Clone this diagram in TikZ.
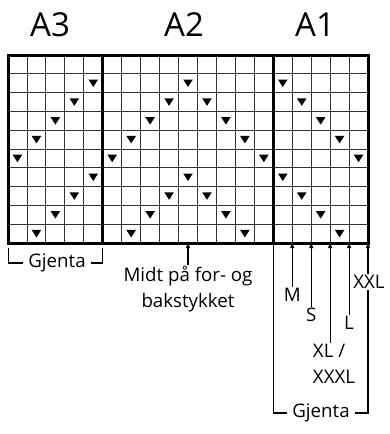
\documentclass[tikz,border=0pt]{standalone}
\usepackage{fontspec}
\setmainfont{Open Sans}
\usetikzlibrary{arrows.meta}
\def\tri(#1,#2){\fill ({8+(#1-0.5)*18.95-4.8},{55+(#2-0.5)*18.8-3.7}) -- ++(9.6,0) -- ++(-4.8,7.5) -- cycle;}
\tikzset{
  lbl/.style={inner sep=1pt, font=\fontsize{18.7}{26}\selectfont},
  ttl/.style={inner sep=0pt, font=\fontsize{33}{40}\selectfont},
  arr/.style={line width=1.1pt, -{Triangle[length=5pt,width=4pt]}},
  brk/.style={line width=1.1pt}
}
\begin{document}
\begin{tikzpicture}[x=1pt, y=-1pt]
			%%%%% START %%%%%
			\useasboundingbox (0,0) rectangle (389,434);
			
			\node[ttl] (a3) at (50, 25) {A3};
			\node[ttl] (a2) at (184, 25) {A2};
			\node[ttl] (a1) at (315, 25) {A1};
			
			% thin grid
			\foreach \i in {1,...,18} \draw[line width=0.9pt, color=black!80] ({8+\i*18.95}, 55) -- ({8+\i*18.95}, 243);
			\foreach \j in {1,...,9} \draw[line width=0.9pt, color=black!80] (8, {55+\j*18.8}) -- (368, {55+\j*18.8});
			
			% thick borders
			\draw[line width=3pt] (8, 55) rectangle (368, 243);
			\draw[line width=3pt] (102.75, 55) -- (102.75, 243);
			\draw[line width=3pt] (273.3, 55) -- (273.3, 243);
			
			% stitches
			\foreach \c/\r in {5/2,4/3,3/4,2/5,1/6,5/7,4/8,3/9,2/10,
			  10/2,9/3,11/3,8/4,12/4,7/5,13/5,6/6,14/6,10/7,9/8,11/8,8/9,12/9,7/10,13/10,
			  15/2,16/3,17/4,18/5,19/6,15/7,16/8,17/9,18/10} {\tri(\c,\r)}
			
			% repeat A3
			\coordinate (g1l) at (8.5, 248);
			\coordinate (g1r) at (102.75, 248);
			\node[lbl, inner sep=5pt] (gjenta1) at (57, 263) {Gjenta};
			\draw[brk] (g1l) |- (gjenta1.west);
			\draw[brk] (g1r) |- (gjenta1.east);
			
			% centre
			\coordinate (midttop) at (188, 243);
			\node[lbl, align=center] (midt) at (188, 289) {Midt på for- og\\bakstykket};
			\draw[arr] (midt) -- (midttop);
			
			% sizes
			\coordinate (mtop) at (292.2, 243);
			\coordinate (stop) at (311.2, 243);
			\coordinate (xltop) at (330.1, 243);
			\coordinate (ltop) at (349.1, 243);
			\coordinate (xxltop) at (368, 243);
			\node[lbl] (m) at (292.2, 295) {M};
			\node[lbl] (s) at (311.2, 315) {S};
			\node[lbl] (l) at (349.1, 323) {L};
			\node[lbl] (xxl) at (369, 282) {XXL};
			\node[lbl, align=left] (xl) at (334, 364) {XL /\\XXXL};
			\draw[arr] (m) -- (mtop);
			\draw[arr] (s) -- (stop);
			\draw[arr] (xl.north -| xltop) -- (xltop);
			\draw[arr] (l) -- (ltop);
			\draw[arr] (xxl.north -| xxltop) -- (xxltop);
			
			% repeat A1
			\coordinate (g2l) at (273.3, 243);
			\node[lbl, inner sep=5pt] (gjenta2) at (321, 413) {Gjenta};
			\draw[brk] (g2l) |- (gjenta2.west);
			\draw[brk] (xxl.south -| xxltop) |- (gjenta2.east);
			%%%%% END %%%%%
\end{tikzpicture}
\end{document}
